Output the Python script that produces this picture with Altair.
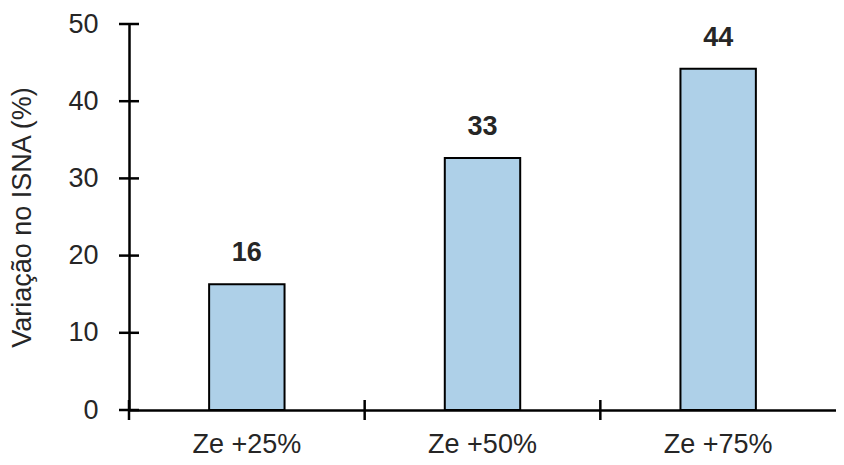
import altair as alt
import pandas as pd

categories = ["Ze +25%", "Ze +50%", "Ze +75%"]
values = [16.3, 32.65, 44.2]
y_ticks = [0, 10, 20, 30, 40, 50]

df = pd.DataFrame({"cat": categories, "val": values})
ticks_df = pd.DataFrame({"t": y_ticks})

FONT = "Liberation Sans"
TXT = "#262626"
W, H = 707, 386

x_enc = alt.X("cat:N", sort=categories,
              scale=alt.Scale(domain=categories, paddingInner=0, paddingOuter=0),
              axis=alt.Axis(title=None, labelAngle=0, labelFont=FONT, labelFontSize=27,
                            labelColor=TXT, labelPadding=21, ticks=False, tickSize=0,
                            domainColor="black", domainWidth=2.5, grid=False))
y_scale = alt.Scale(domain=[0, 50], nice=False)
y_axis = alt.Axis(title="Variação no ISNA (%)", values=y_ticks, labelFont=FONT,
                  labelFontSize=27, labelColor=TXT, labelPadding=31,
                  ticks=False, tickSize=0,
                  domainColor="black", domainWidth=2.5, grid=False,
                  titleFont=FONT, titleFontSize=27, titleFontWeight="normal",
                  titleColor=TXT, titleX=-107, titleBaseline="middle")

base = alt.Chart(df)

bars = base.mark_bar(fill="#AED0E8", stroke="black", strokeWidth=2,
                     width=alt.RelativeBandSize(0.32)).encode(
    x=x_enc,
    y=alt.Y("val:Q", scale=y_scale, axis=y_axis),
)

labels = base.mark_text(font=FONT, fontSize=27, fontWeight="bold", color=TXT,
                        baseline="alphabetic", dy=-23).encode(
    x=alt.X("cat:N", sort=categories),
    y=alt.Y("val:Q"),
    text=alt.Text("val:Q", format=".0f"),
)

y_tick_marks = alt.Chart(ticks_df).mark_rule(color="black", strokeWidth=2.5).encode(
    y=alt.Y("t:Q"),
    x=alt.value(-10),
    x2=alt.value(10),
)

x_tick_marks = base.mark_rule(color="black", strokeWidth=2.5).encode(
    x=alt.X("cat:N", sort=categories, bandPosition=0),
    y=alt.value(H - 10),
    y2=alt.value(H + 10),
)

chart = alt.layer(bars, labels, y_tick_marks, x_tick_marks).properties(
    width=W, height=H,
    background="white",
    autosize=alt.AutoSizeParams(type="none"),
    padding={"left": 121, "top": 16, "right": 0, "bottom": 449 - 16 - H},
).configure_view(stroke=None, strokeWidth=0)

chart.save("out.html", embed_options={"renderer": "svg", "actions": False})
